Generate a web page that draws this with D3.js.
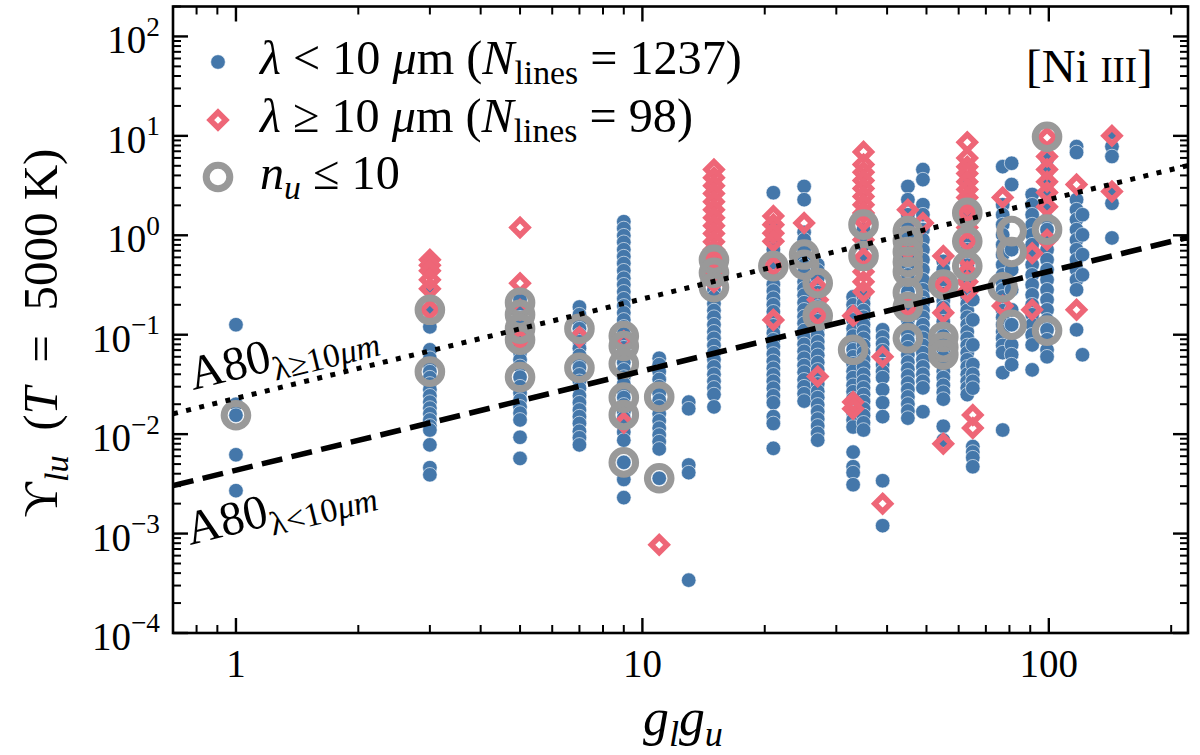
<!DOCTYPE html>
<html><head><meta charset="utf-8">
<script src="https://cdn.jsdelivr.net/npm/d3@7"></script>
<style>body{margin:0;background:#fff}</style>
</head><body>
<svg id="c" width="1200" height="755"></svg>
<script>
// ---------------- data ----------------
const gColumns = [1,3,5,7,9,11,13,15,21,25,27,33,35,39,45,49,55,63,65,77,81,91,99,117,121,143];

// lambda < 10 micron (blue dots), one list per g_l*g_u column
const upsShortWave = [
 [0.126,0.020,0.0155,0.0062,0.0027],
 [0.30,0.178,0.12,0.0705,0.058,0.050,0.0425,0.037,0.032,0.028,0.0243,0.021,0.0183,0.016,0.0139,0.0121,0.011,0.0078,0.0046,0.0039],
 [0.225,0.178,0.148,0.126,0.104,0.089,0.076,0.066,0.056,0.048,0.0375,0.030,0.026,0.022,0.0188,0.0163,0.0139,0.0093,0.0057],
 [0.19,0.159,0.135,0.115,0.0998,0.085,0.073,0.062,0.0525,0.0465,0.0395,0.034,0.029,0.0243,0.0207,0.0175,0.015,0.0128,0.0107,0.0092,0.0078],
 [1.37,1.17,0.99,0.85,0.716,0.61,0.52,0.44,0.37,0.318,0.27,0.23,0.195,0.166,0.141,0.12,0.102,0.087,0.074,0.062,0.0525,0.0443,0.0375,0.032,0.027,0.0233,0.0197,0.0168,0.0145,0.0124,0.0105,0.0087,0.0052,0.0035,0.0023],
 [0.058,0.050,0.0425,0.0355,0.030,0.0257,0.022,0.0188,0.016,0.0136,0.0115,0.0098,0.0084,0.0071,0.0036],
 [0.021,0.018,0.0049,0.0041,0.00034],
 [0.716,0.59,0.49,0.41,0.34,0.283,0.24,0.205,0.175,0.15,0.126,0.107,0.092,0.078,0.066,0.056,0.0475,0.040,0.034,0.0292,0.025,0.0188],
 [2.68,1.28,1.05,0.87,0.716,0.59,0.49,0.38,0.32,0.275,0.233,0.20,0.17,0.145,0.123,0.104,0.089,0.076,0.064,0.054,0.046,0.0395,0.034,0.029,0.0243,0.0207,0.015,0.0128,0.0072],
 [3.1,2.28,1.07,0.9,0.716,0.59,0.5,0.42,0.34,0.29,0.25,0.21,0.178,0.152,0.13,0.11,0.094,0.08,0.068,0.058,0.049,0.042,0.0352,0.030,0.0255,0.0215],
 [0.506,0.44,0.37,0.31,0.265,0.225,0.19,0.162,0.138,0.115,0.0998,0.085,0.073,0.062,0.0525,0.0443,0.0375,0.032,0.027,0.0233,0.0197,0.0168,0.0142,0.0121,0.0102,0.0087],
 [0.24,0.20,0.17,0.141,0.115,0.097,0.083,0.0705,0.06,0.051,0.043,0.037,0.031,0.0267,0.0227,0.0193,0.0164,0.0139,0.0118,0.0066,0.0047,0.0041,0.0031],
 [1.14,0.8,0.568,0.283,0.24,0.205,0.175,0.15,0.126,0.107,0.092,0.078,0.066,0.056,0.0475,0.040,0.034,0.0292,0.025,0.0213,0.018,0.0154,0.013,0.011],
 [0.112,0.095,0.081,0.069,0.0498,0.0425,0.037,0.028,0.0207,0.015,0.0034,0.0012],
 [3.1,2.28,1.61,1.28,1.01,0.804,0.638,0.506,0.40,0.318,0.27,0.23,0.195,0.166,0.141,0.12,0.102,0.087,0.074,0.0628,0.053,0.045,0.0385,0.0327,0.028,0.0237,0.0201,0.0171,0.0145],
 [4.58,3.63,2.03,1.61,1.14,0.9,0.716,0.568,0.451,0.357,0.283,0.24,0.205,0.175,0.15,0.126,0.107,0.092,0.078,0.066,0.056,0.0475,0.040,0.034,0.0292,0.0168],
 [0.546,0.451,0.375,0.31,0.258,0.22,0.187,0.159,0.135,0.114,0.097,0.083,0.0705,0.06,0.051,0.043,0.037,0.031,0.0264,0.0225,0.012,0.0087],
 [3.63,2.28,1.61,1.2,0.9,0.716,0.59,0.5,0.42,0.34,0.283,0.24,0.205,0.175,0.15,0.126,0.107,0.092,0.078,0.066,0.056,0.0475,0.040,0.034,0.0292,0.025],
 [0.225,0.141,0.079,0.05,0.04,0.034,0.029,0.0075,0.0066,0.0058,0.0047],
 [4.9,2.03,1.61,1.28,1.01,0.804,0.638,0.506,0.40,0.33,0.283,0.24,0.205,0.175,0.15,0.126,0.107,0.092,0.078,0.066,0.0415,0.011],
 [5.3,3.24,0.716,0.451,0.283,0.178,0.126,0.079,0.063,0.05],
 [2.57,2.03,1.61,1.28,1.01,0.804,0.638,0.506,0.40,0.318,0.252,0.20,0.159,0.126,0.0998,0.079,0.0443],
 [5.77,4.38,3.45,2.7,1.94,1.44,1.14,0.9,0.716,0.568,0.451,0.357,0.283,0.225,0.178,0.141,0.112,0.089,0.0705,0.06],
 [7.8,6.8,2.28,1.81,1.44,1.14,0.9,0.716,0.568,0.451,0.357,0.283,0.112],
 [1.61,1.01,0.638,0.40,0.0628],
 [10,7.8,6.2,2.75,2.1,0.94]
];

// lambda >= 10 micron (pink diamonds)
const upsLongWave = [
 [],
 [0.568,0.50,0.44,0.357,0.29,0.178],
 [1.20,0.33,0.178,0.089],
 [0.095],
 [0.086,0.013],
 [0.00077],
 [],
 [4.58,3.8,3.15,2.63,2.18,1.81,1.5,1.25,1.04,0.86,0.716,0.59,0.49,0.41,0.34],
 [1.56,1.28,1.05,0.87,0.49,0.141],
 [1.33],
 [0.30,0.225,0.155,0.038],
 [0.155,0.021,0.018],
 [6.9,5.14,4.3,3.55,2.95,2.45,2.03,1.68,1.4,0.9,0.59,0.43,0.34,0.27],
 [0.060,0.0020],
 [1.81,0.716,0.19],
 [1.33],
 [0.62,0.32,0.166,0.008],
 [8.6,6.0,4.9,4.18,3.45,2.88,2.4,2.03,1.68,1.2,0.87,0.568,0.43,0.34,0.27],
 [0.0156,0.0115],
 [2.4,0.195],
 [],
 [0.66,0.178],
 [9.6,6.2,4.6,3.45,2.7,1.94,0.9],
 [3.24,0.178],
 [],
 [10,2.75]
];

// n_u <= 10 (grey rings)
const upsLowN = [
 [0.0155],
 [0.178,0.0425],
 [0.21,0.159,0.115,0.089,0.0375],
 [0.115,0.0465],
 [0.097,0.077,0.051,0.0233,0.0156,0.0052],
 [0.0237,0.0036],
 [],
 [0.568,0.42,0.30],
 [0.49],
 [0.64,0.506],
 [0.33,0.155],
 [0.0705],
 [1.28,0.62],
 [],
 [1.1,0.88,0.68,0.54,0.43,0.265,0.19,0.092],
 [],
 [0.32,0.095,0.075,0.063],
 [1.68,0.87,0.49],
 [],
 [0.30],
 [1.1,0.68,0.126],
 [],
 [9.8,1.14,0.11],
 [],
 [],
 []
];

// A80 relations: Upsilon = a * (g_l g_u)^b
const fitNames = ["geq","lt"];
const fitA = [0.0229, 0.00433];
const fitB = [1.0, 1.0];

const xTickValues = [1,10,100];
const xTickLabels = ["1","10","100"];
const yTickValues = [1e-4,1e-3,1e-2,1e-1,1e0,1e1,1e2];
const yTickExps = ["\u22124","\u22123","\u22122","\u22121","0","1","2"];
const xDomain = [0.7, 220];
const yDomain = [1e-4, 200];

const legendLabels = ["lt","geq","lowN"];

// ---------------- drawing ----------------
const FONT = "'Liberation Serif','DejaVu Serif',serif";
const BLUE = "#4477AA", PINK = "#EE6677", GREY = "#999999";
const M = {left:173, top:6.5, right:1188, bottom:633};
const svg = d3.select("#c");
const x = d3.scaleLog().domain(xDomain).range([M.left, M.right]);
const y = d3.scaleLog().domain(yDomain).range([M.bottom, M.top]);

svg.append("defs").append("clipPath").attr("id","clip")
  .append("rect").attr("x",M.left).attr("y",M.top)
  .attr("width",M.right-M.left).attr("height",M.bottom-M.top);

const flat = arr => gColumns.flatMap((g,i) => arr[i].map(v => ({g, v})));
const blue = flat(upsShortWave), pink = flat(upsLongWave), grey = flat(upsLowN);

const plot = svg.append("g").attr("clip-path","url(#clip)");
const DR = 7.8;
const diamond = `M0,${-DR}L${DR},0L0,${DR}L${-DR},0Z`;

plot.append("g").selectAll("circle").data(blue).join("circle")
  .attr("cx",d=>x(d.g)).attr("cy",d=>y(d.v)).attr("r",7.3)
  .attr("fill",BLUE).attr("stroke","#fff").attr("stroke-width",0.6);
plot.append("g").selectAll("path").data(pink).join("path")
  .attr("d",diamond).attr("transform",d=>`translate(${x(d.g)},${y(d.v)})`)
  .attr("fill","none").attr("stroke",PINK).attr("stroke-width",5.6).attr("stroke-linejoin","miter");
plot.append("g").selectAll("circle").data(grey).join("circle")
  .attr("cx",d=>x(d.g)).attr("cy",d=>y(d.v)).attr("r",11.8)
  .attr("fill","none").attr("stroke",GREY).attr("stroke-width",7);

// fit lines
const line = d3.line().x(d=>x(d[0])).y(d=>y(d[1]));
fitNames.forEach((n,i) => {
  const pts = xDomain.map(g => [g, fitA[i]*Math.pow(g, fitB[i])]);
  plot.append("path").attr("d", line(pts)).attr("fill","none").attr("stroke","#000")
    .attr("stroke-width", n==="geq" ? 5 : 5.5)
    .attr("stroke-dasharray", n==="geq" ? "5,8.5" : "21,9.5");
});

// frame and ticks
svg.append("rect").attr("x",M.left).attr("y",M.top).attr("width",M.right-M.left)
  .attr("height",M.bottom-M.top).attr("fill","none").attr("stroke","#000").attr("stroke-width",2.6);
const isMajor = v => Math.abs(Math.log10(v)-Math.round(Math.log10(v))) < 1e-9;
const tg = svg.append("g").attr("stroke","#000");
x.ticks().filter(v => v>=xDomain[0]-1e-9 && v<=xDomain[1]+1e-9).forEach(v => {
  const L = isMajor(v) ? 15 : 8, w = isMajor(v) ? 2.4 : 2;
  tg.append("line").attr("x1",x(v)).attr("x2",x(v)).attr("y1",M.bottom).attr("y2",M.bottom-L).attr("stroke-width",w);
  tg.append("line").attr("x1",x(v)).attr("x2",x(v)).attr("y1",M.top).attr("y2",M.top+L).attr("stroke-width",w);
});
y.ticks().filter(v => v>=yDomain[0]*0.999 && v<=yDomain[1]*1.001).forEach(v => {
  const L = isMajor(v) ? 15 : 8, w = isMajor(v) ? 2.4 : 2;
  tg.append("line").attr("y1",y(v)).attr("y2",y(v)).attr("x1",M.left).attr("x2",M.left+L).attr("stroke-width",w);
  tg.append("line").attr("y1",y(v)).attr("y2",y(v)).attr("x1",M.right).attr("x2",M.right-L).attr("stroke-width",w);
});

// rich text helper
function rich(sel, parts, fs) {
  const t = sel.append("text").attr("font-size",fs).attr("font-family",FONT)
    .style("white-space","pre").attr("fill","#000");
  let shift = 0;
  for (const p of parts) {
    const size = p.size || ((p.sub||p.sup) ? 0.7 : (p.sc ? 0.78 : 1));
    const target = p.sub ? 0.22 : (p.sup ? -0.45 : 0);
    const ts = t.append("tspan").text(p.t).attr("font-size", size+"em");
    if (p.it) ts.attr("font-style","italic");
    const d = target - shift;
    if (Math.abs(d) > 1e-9) ts.attr("dy", (d/size).toFixed(4)+"em");
    shift = target;
  }
  return t;
}
function fit(t, width) {
  const L = t.node().getComputedTextLength();
  t.attr("font-size", (+t.attr("font-size"))*width/L);
  return +t.attr("font-size");
}

// tick labels
xTickValues.forEach((v,i) => {
  svg.append("text").attr("x",x(v)).attr("y",677).attr("text-anchor","middle")
    .attr("font-family",FONT).attr("font-size",39).text(xTickLabels[i]);
});
yTickValues.forEach((v,i) => {
  const t = rich(svg, [{t:"10"},{t:yTickExps[i],sup:true}], 39);
  t.attr("x",160).attr("y",y(v)+17).attr("text-anchor","end");
});

// axis labels
const xl = rich(svg, [{t:"g",it:true},{t:"l",it:true,sub:true},{t:"g",it:true},{t:"u",it:true,sub:true}], 40);
fit(xl, 80);
xl.attr("text-anchor","middle").attr("transform","translate(683,735)");
const EN = "\u2002";
const yl = rich(svg, [{t:"\u03D2"},{t:"lu",it:true,sub:true},{t:EN+"("},{t:"T",it:true},{t:EN+"="+EN+"5000 K)"}], 49);
yl.attr("text-anchor","middle").attr("transform","translate(57,333) rotate(-90)");

// legend
const leg = svg.append("g");
const legTexts = [
  [{t:"\u03BB",it:true},{t:" < 10 "},{t:"\u03BC",it:true},{t:"m ("},{t:"N",it:true},{t:"lines",sub:true},{t:" = 1237)"}],
  [{t:"\u03BB",it:true},{t:" \u2265 10 "},{t:"\u03BC",it:true},{t:"m ("},{t:"N",it:true},{t:"lines",sub:true},{t:" = 98)"}],
  [{t:"n",it:true},{t:"u",it:true,sub:true},{t:" \u2264 10"}]
];
const legY = [62, 120, 177];
const t0 = rich(leg, legTexts[0], 34);
const legFS = fit(t0, 482);
legendLabels.forEach((k,i) => {
  const t = i===0 ? t0 : rich(leg, legTexts[i], legFS);
  t.attr("x",260).attr("y",legY[i]+11.5);
  if (k==="lt") leg.append("circle").attr("cx",218).attr("cy",legY[i]).attr("r",7.3).attr("fill",BLUE).attr("stroke","#fff").attr("stroke-width",0.6);
  if (k==="geq") leg.append("path").attr("d",diamond).attr("transform",`translate(218,${legY[i]})`).attr("fill","none").attr("stroke",PINK).attr("stroke-width",5.6);
  if (k==="lowN") leg.append("circle").attr("cx",218).attr("cy",legY[i]).attr("r",11.8).attr("fill","none").attr("stroke",GREY).attr("stroke-width",7);
});

// ion label
const ion = rich(svg, [{t:"[Ni "},{t:"III",sc:true},{t:"]"}], 47);
ion.attr("x",1026).attr("y",82);

// fit-line labels
const ang = -Math.atan(0.2445)*180/Math.PI;
const l1 = rich(svg, [{t:"A80"},{t:"\u03BB\u226510",sub:true,size:0.7},{t:"\u03BCm",sub:true,it:true,size:0.7}], 48);
l1.attr("transform",`translate(193,390) rotate(${ang})`);
const l2 = rich(svg, [{t:"A80"},{t:"\u03BB<10",sub:true,size:0.7},{t:"\u03BCm",sub:true,it:true,size:0.7}], 48);
l2.attr("transform",`translate(190,545) rotate(${ang})`);
</script>
</body></html>
